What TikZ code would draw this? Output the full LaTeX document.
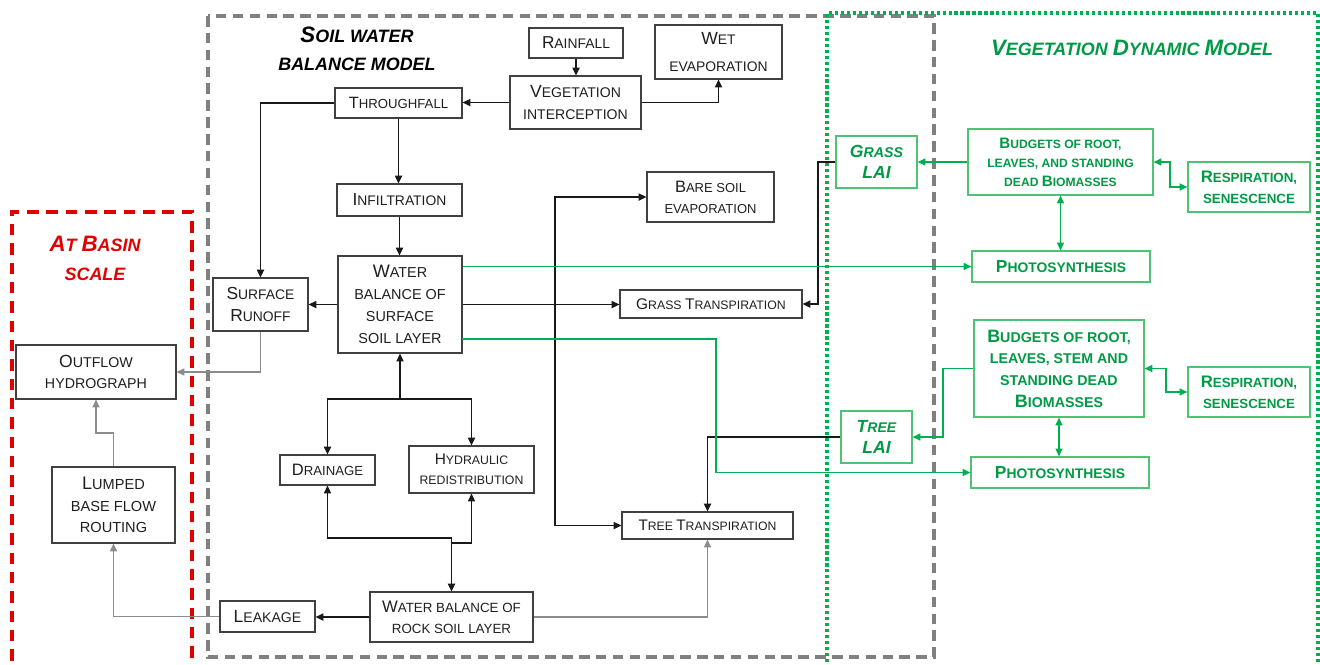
\documentclass[tikz,border=0pt]{standalone}
\usepackage{fontspec}
\setmainfont{Liberation Sans}
\usetikzlibrary{arrows.meta}
\definecolor{gbox}{HTML}{4CC474}
\definecolor{gtxt}{HTML}{009A45}
\definecolor{gln}{HTML}{00B050}
\definecolor{dgray}{HTML}{808080}
\definecolor{lgray}{HTML}{8C8C8C}
\definecolor{rdash}{HTML}{E00000}
\definecolor{bxline}{HTML}{404040}
\newcommand\bigsz{10pt}
\newcommand\U[1]{{\fontsize{\bigsz}{0pt}\selectfont #1}}
\begin{document}
\begin{tikzpicture}[x=0.02cm,y=-0.02cm,
  >={Triangle[length=4.4pt,width=4pt]},
  wh/.style 2 args={minimum width=#1*0.02cm, minimum height=#2*0.02cm},
  fnt/.style n args={3}{font={\def\bigsz{#1}\fontsize{#2}{#3}\selectfont}},
  bx/.style={draw=bxline, line width=0.65pt, inner sep=0pt, align=center, text=black!88},
  gbx/.style={draw=gbox, line width=0.7pt, inner sep=0pt, align=center, text=gtxt, execute at begin node=\bfseries},
  lai/.style={draw=gbox, line width=0.7pt, inner sep=0pt, align=center, text=gtxt, execute at begin node=\bfseries\itshape},
  ttl/.style={align=center, inner sep=0pt, execute at begin node=\bfseries\itshape},
  conn/.style={line width=0.95pt, draw=black!90},
  thin/.style={line width=0.65pt, draw=lgray},
  gc/.style={line width=0.7pt, draw=gln}
]
\useasboundingbox (0,0) rectangle (1320,664);

% frames
\draw[dgray, line width=1.8pt, dash pattern=on 6pt off 3.6pt] (208,16) rectangle (934,657);
\draw[rdash, line width=1.8pt, dash pattern=on 6.5pt off 4.5pt] (12,680) -- (12,212) -- (192,212) -- (192,680);
\draw[gln, line width=2pt, dash pattern=on 1.8pt off 1.6pt] (827,680) -- (827,13) -- (1318,13) -- (1318,680);

% titles
\node[ttl, fnt={12.7pt}{10.2pt}{16pt}] (t1) at (357,49) {\U{S}OIL WATER\\BALANCE MODEL};
\node[ttl, fnt={12.7pt}{10.2pt}{16pt}, text=gtxt] (t2) at (1132,48) {\U{V}EGETATION \U{D}YNAMIC \U{M}ODEL};
\node[ttl, fnt={12.7pt}{10.2pt}{16.5pt}, text=rdash] (t3) at (95,258) {\U{A}T \U{B}ASIN\\SCALE};

% black nodes
\node[bx, wh={94}{30}, fnt={9.8pt}{7.9pt}{12pt}] (rain) at (576,43) {\U{R}AINFALL};
\node[bx, wh={127}{54}, fnt={10pt}{7.9pt}{15.4pt}] (wet) at (718.5,52) {\U{W}ET\\EVAPORATION};
\node[bx, wh={131}{53}, fnt={10pt}{8pt}{12pt}] (veg) at (575.5,102.5) {\U{V}EGETATION\\INTERCEPTION};
\node[bx, wh={127}{30}, fnt={9.3pt}{7.5pt}{12pt}] (thr) at (398.5,103) {\U{T}HROUGHFALL};
\node[bx, wh={125}{32}, fnt={9.9pt}{7.9pt}{12pt}] (inf) at (399.5,200) {\U{I}NFILTRATION};
\node[bx, wh={127}{50}, fnt={9.4pt}{7.4pt}{12pt}] (bare) at (710.5,197) {\U{B}ARE SOIL\\EVAPORATION};
\node[bx, wh={124}{97}, fnt={10.3pt}{8.2pt}{12.5pt}] (wbs) at (400,304.5) {\U{W}ATER\\BALANCE OF\\SURFACE\\SOIL LAYER};
\node[bx, wh={95}{53}, fnt={9.9pt}{7.9pt}{13pt}] (sro) at (260.5,304.5) {\U{S}URFACE\\\U{R}UNOFF};
\node[bx, wh={182}{28}, fnt={8.8pt}{7pt}{12pt}] (gtr) at (711,304) {\U{G}RASS \U{T}RANSPIRATION};
\node[bx, wh={160}{54}, fnt={10pt}{8.1pt}{12pt}] (out) at (96,372) {\U{O}UTFLOW\\HYDROGRAPH};
\node[bx, wh={95}{30}, fnt={9.4pt}{7.5pt}{12pt}] (drn) at (327.5,470) {\U{D}RAINAGE};
\node[bx, wh={125}{47}, fnt={8.8pt}{7pt}{11.4pt}] (hyd) at (471.5,469.5) {\U{H}YDRAULIC\\REDISTRIBUTION};
\node[bx, wh={123}{76}, fnt={10.3pt}{8.3pt}{12.2pt}] (lmp) at (113.5,505) {\U{L}UMPED\\BASE FLOW\\ROUTING};
\node[bx, wh={95}{31}, fnt={10pt}{8pt}{12pt}] (lek) at (267.5,616.5) {\U{L}EAKAGE};
\node[bx, wh={163}{50}, fnt={9.5pt}{7.6pt}{12pt}] (rock) at (451.5,617) {\U{W}ATER BALANCE OF\\ROCK SOIL LAYER};
\node[bx, wh={171}{27}, fnt={8.7pt}{6.95pt}{12pt}] (ttr) at (707.5,525.5) {\U{T}REE \U{T}RANSPIRATION};

% green nodes
\node[lai, wh={81}{52}, fnt={10pt}{8.1pt}{12pt}] (glai) at (876.5,162) {\U{G}RASS\\\U{LAI}};
\node[lai, wh={71}{52}, fnt={10pt}{8pt}{12pt}] (tlai) at (876.5,437) {\U{T}REE\\\U{LAI}};
\node[gbx, wh={185}{66}, fnt={8.6pt}{6.9pt}{10.8pt}] (bud1) at (1060.5,162) {\U{B}UDGETS OF ROOT,\\LEAVES, AND STANDING\\DEAD \U{B}IOMASSES};
\node[gbx, wh={122}{50}, fnt={9.5pt}{7.6pt}{12pt}] (res1) at (1249,187) {\U{R}ESPIRATION,\\SENESCENCE};
\node[gbx, wh={178}{31}, fnt={9.9pt}{7.9pt}{12pt}] (ph1) at (1061,266.5) {\U{P}HOTOSYNTHESIS};
\node[gbx, wh={170}{97}, fnt={10.2pt}{8.1pt}{12.3pt}] (bud2) at (1059,368.5) {\U{B}UDGETS OF ROOT,\\LEAVES, STEM AND\\STANDING DEAD\\\U{B}IOMASSES};
\node[gbx, wh={122}{50}, fnt={9.5pt}{7.6pt}{12pt}] (res2) at (1249,392) {\U{R}ESPIRATION,\\SENESCENCE};
\node[gbx, wh={178}{31}, fnt={9.9pt}{7.9pt}{12pt}] (ph2) at (1060,472.5) {\U{P}HOTOSYNTHESIS};

% black connectors
\draw[conn,->] (rain.south) -- (rain.south |- veg.north);
\draw[conn,->] (veg.west) -- (thr.east |- veg.west);
\draw[conn,->] (veg.east) -| (wet.south);
\draw[conn,->] (thr.south) -- (thr.south |- inf.north);
\draw[conn,->] (thr.west) -| (sro.north);
\draw[conn,->] (inf.south) -- (inf.south |- wbs.north);
\draw[conn,->] (wbs.west) -- (sro.east);
\draw[conn,->] (wbs.east) -- (gtr.west |- wbs.east);
\coordinate (vj) at (555,304.5);
\draw[conn,->] (vj) |- (bare.west);
\draw[conn,->] (vj) |- (ttr.west);
\draw[conn,->] (glai.west) -| (818,304) -- (gtr.east);
\draw[conn,->] (tlai.west) -| (ttr.north);
\coordinate (j1) at (400,399);
\draw[conn,->] (j1) -- (wbs.south);
\draw[conn,->] (j1) -| (drn.north);
\draw[conn,->] (j1) -| (hyd.north);
\coordinate (j2) at (451.5,538);
\coordinate (j3) at (451.5,543);
\draw[conn,<->] (drn.south) |- (j2) -- (rock.north);
\draw[conn,->] (j3) -| (hyd.south);
\draw[conn,->] (rock.west) -- (lek.east |- rock.west);

% gray thin connectors
\draw[thin,->] (sro.south) |- (out.east);
\draw[thin,->] (lek.west) -| (lmp.south);
\draw[thin,->] (lmp.north) |- (96,433) -- (out.south);
\draw[thin,->] (rock.east) -| (ttr.south);

% green connectors
\draw[gc,->] (wbs.east |- ph1.west) -- (ph1.west);
\draw[gc,->] (462,339) -| (716,472.5) -- (ph2.west);
\draw[gc,->] (bud1.west) -- (glai.east);
\draw[gc,<->] (bud1.east) -- (1170,162) |- (res1.west);
\draw[gc,<->] (bud1.south) -- (bud1.south |- ph1.north);
\draw[gc,->] (bud2.west) -- (943,368.5) |- (tlai.east);
\draw[gc,<->] (bud2.east) -- (1166,368.5) |- (res2.west);
\draw[gc,<->] (bud2.south) -- (bud2.south |- ph2.north);
\end{tikzpicture}
\end{document}
